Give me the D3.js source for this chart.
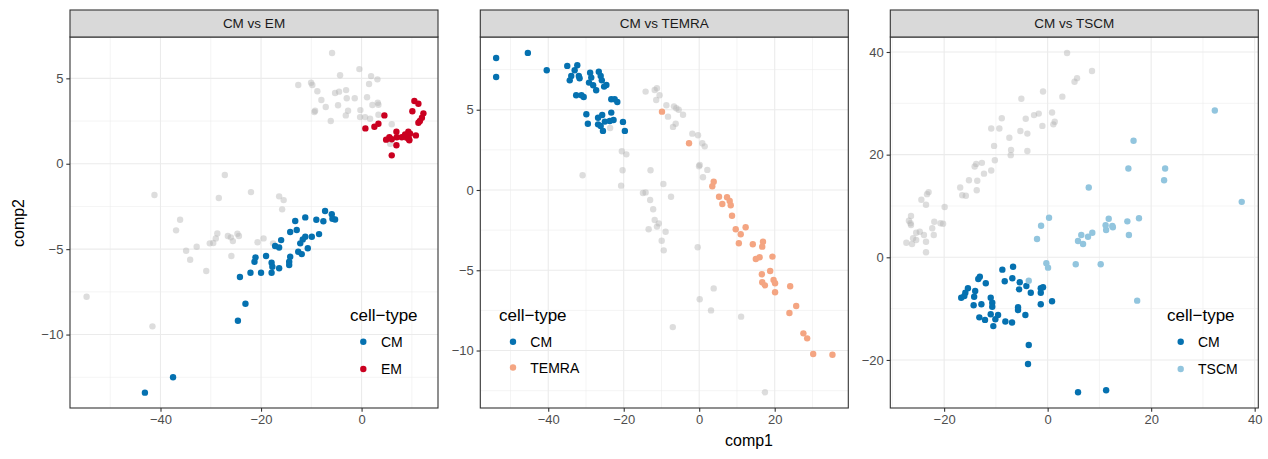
<!DOCTYPE html>
<html><head><meta charset="utf-8">
<script src="https://cdn.jsdelivr.net/npm/d3@7"></script>
<style>
body{margin:0;background:#fff}
svg{display:block}
text{font-family:"Liberation Sans",Arial,Helvetica,sans-serif}
</style>
</head><body>
<svg id="chart" width="1268" height="459"></svg>
<script>
// ---------- data ----------
const panelTitles = ["CM vs EM", "CM vs TEMRA", "CM vs TSCM"];
const otherTypes = ["EM", "TEMRA", "TSCM"];
const typeColors = {CM: "#0571B0", EM: "#CA0020", TEMRA: "#F4A582", TSCM: "#92C5DE"};
const legendTitle = "cell\u2212type";
const xTitle = "comp1";
const yTitle = "comp2";

const xDomains = [[-58.0, 15.2], [-58.0, 39.5], [-30.4, 40.7]];
const yDomains = [[-14.3, 7.42], [-13.58, 9.53], [-29.36, 42.92]];
const xMajor = [[-40, -20, 0], [-40, -20, 0, 20], [-20, 0, 20, 40]];
const xMinor = [[-50, -30, -10, 10], [-50, -30, -10, 10, 30], [-30, -10, 10, 30]];
const yMajor = [[-10, -5, 0, 5], [-10, -5, 0, 5], [-20, 0, 20, 40]];
const yMinor = [[-12.5, -7.5, -2.5, 2.5], [-12.5, -7.5, -2.5, 2.5, 7.5], [-10, 10, 30]];

// Panel 1: CM vs EM
const emGray = [[-27.2,-0.66],[-41.2,-1.83],[-28.4,-2.01],[-22.0,-1.66],[-36.1,-3.28],
[-5.87,6.48],[-0.44,5.54],[-4.28,5.18],[1.89,5.13],[3.15,4.94],[1.49,4.67],[-12.6,4.61],[-10.05,4.74],[-9.8,4.61],[-8.8,4.24],[-5.27,4.14],[-4.48,4.22],[-3.08,4.31],[-2.95,3.83],[-1.36,3.83],[1.09,3.89],[-8.0,3.73],[-7.13,3.32],[-4.68,3.42],[-2.69,3.10],[-9.25,3.10],[-9.39,3.03],[-3.14,2.83],[-0.24,3.14],[2.15,3.44],[3.22,3.57],[3.35,3.45],[-0.3,2.73],[0.7,2.73],[1.69,2.63],[3.35,2.87],[-6.13,2.50],[6.0,2.31],[5.7,1.17],
[-16.4,-1.91],[-15.5,-2.13],[-15.8,-2.67],
[-36.9,-3.9],[-28.7,-4.08],[-29.0,-4.37],[-29.5,-4.64],[-30.2,-4.66],[-26.6,-4.23],[-26.0,-4.31],[-25.6,-4.53],[-24.7,-4.10],[-24.4,-4.23],[-20.7,-4.6],[-32.8,-4.86],[-34.9,-5.09],[-34.1,-5.62],[-25.9,-5.40],[-30.9,-6.28],[-54.7,-7.79],[-41.6,-9.52],
[-19.5,-4.37],[-17.6,-4.66]];
const emCM = [[-7.26,-2.77],[-5.93,-2.96],[-5.27,-3.26],[-5.8,-3.22],[-9.0,-3.28],[-11.2,-3.14],[-13.2,-3.35],[-7.6,-3.37],
[-14.2,-4.0],[-12.9,-3.88],[-8.46,-4.12],[-9.9,-4.27],[-11.2,-4.27],[-11.7,-4.43],[-12.2,-4.66],[-10.7,-4.95],[-12.6,-5.15],[-11.9,-5.29],[-16.0,-4.47],[-17.2,-4.82],[-16.4,-4.9],[-14.2,-5.44],[-14.4,-5.74],[-14.4,-5.93],[-19.0,-5.40],[-17.9,-5.79],[-17.75,-6.03],[-16.4,-6.12],[-20.0,-6.38],[-17.9,-6.38],
[-21.1,-5.48],[-21.3,-5.74],[-22.1,-6.38],[-24.2,-6.63],[-23.1,-8.2],[-24.6,-9.19],[-37.5,-12.5],[-43.1,-13.4]];
const emEM = [[4.54,2.83],[3.35,2.34],[2.55,2.17],[0.76,2.07],[10.5,3.67],[11.3,3.51],[10.1,3.07],[12.3,2.95],[12.0,2.69],[11.6,2.50],[11.3,2.40],[6.93,1.87],[9.3,1.87],[9.65,1.76],[10.8,1.66],[5.53,1.56],[4.88,1.41],[6.0,1.43],[8.0,1.55],[9.0,1.52],[9.45,1.43],[9.5,1.37],[7.0,1.55],[6.93,1.08],[6.0,0.49],[8.66,1.72]];

// Panel 2: CM vs TEMRA
const temraGray = [[-23.6,3.86],[-14.2,6.13],[-11.8,6.23],[-11.2,6.34],[-10.5,5.90],[-11.4,5.61],[-8.7,5.28],[-8.27,4.57],[-20.5,2.41],[-19.3,2.22],[-20.3,1.23],[-12.9,1.23],[-30.9,0.92],[-20.7,0.27],[-9.5,0.37],[-14.9,-0.19],[-14.2,-0.15],[-13.0,-0.62],[-12.2,-1.2],[-11.8,-1.87],[-10.7,-2.08],
[-6.68,5.21],[-6.07,5.09],[-5.43,5.0],[-4.29,4.69],[-6.23,4.13],[-6.94,3.93],[-1.83,3.51],[-0.32,3.41],[0.82,2.91],[1.46,2.72],[0.13,1.56],[-0.05,1.48],[2.15,1.25],[1.0,0.79],[-7.47,-0.42],
[-13.4,-2.45],[-11.2,-2.28],[-8.9,-2.6],[-9.94,-3.16],[-9.4,-3.76],
[-0.4,-3.57],[3.84,-6.13],[0.13,-6.81],[3.13,-7.5],[11.1,-7.89],[-7.0,-8.54],[17.4,-12.6]];
const temraCM = [[-53.8,8.22],[-53.8,7.04],[-45.4,8.54],[-40.4,7.46],[-34.96,7.73],[-32.3,7.77],[-33.0,7.46],[-33.9,7.10],[-34.3,6.83],[-31.9,7.10],[-31.7,6.96],[-28.9,7.31],[-26.6,7.37],[-28.6,7.0],[-26.1,7.10],[-29.2,6.69],[-28.1,6.52],[-25.8,6.83],[-24.6,6.54],[-25.2,6.44],[-27.3,6.21],[-32.6,5.90],[-30.6,5.79],[-31.2,5.90],[-23.3,5.65],[-21.7,5.48],[-22.4,5.65],[-29.9,4.72],[-23.3,4.82],[-26.8,4.5],[-25.7,4.67],[-29.5,4.13],[-26.8,4.09],[-25.0,4.26],[-23.7,4.30],[-22.7,4.36],[-26.1,3.99],[-25.5,3.68],[-20.2,4.24],[-19.7,3.68]];
const temraTEMRA = [[-9.86,4.88],[-2.7,2.91],[3.84,0.52],[3.47,0.23],[5.25,-0.42],[7.37,-0.45],[8.08,-0.69],[8.35,-0.95],[6.12,-0.87],[8.69,-1.6],[9.67,-2.45],[12.3,-2.32],[11.0,-2.76],[10.5,-3.32],[14.2,-3.38],[16.9,-3.22],[16.7,-3.53],[19.4,-4.15],[15.0,-4.30],[16.0,-4.19],[18.8,-5.05],[16.6,-5.25],[16.7,-5.75],[17.4,-5.94],[19.7,-5.61],[20.1,-5.81],[20.1,-6.37],[24.1,-6.0],[25.7,-7.23],[23.9,-7.66],[27.6,-8.93],[28.6,-9.24],[30.2,-10.22],[35.3,-10.26]];

// Panel 3: CM vs TSCM
const tscmGray = [[3.75,39.8],[5.2,34.2],[5.68,34.9],[-0.89,32.3],[-5.08,30.9],[2.84,31.3],[0.85,28.2],[-1.72,28.0],[-2.63,27.7],[-4.23,27.0],[-8.86,27.1],[1.37,26.4],[1.1,25.9],[-1.02,25.6],[-10.9,25.1],[-9.33,25.1],[-5.27,24.6],[-3.92,24.1],[-7.4,23.3],[-10.35,21.7],[-7.07,20.9],[-3.92,20.7],[-7.13,19.9],[-10.2,18.9],[-12.7,18.4],[-13.8,18.2],[-14.1,17.7],[-10.9,16.9],[-12.3,16.3],[-15.2,15.0],[-13.6,14.9],[-16.9,13.6],[-13.7,13.05],[-16.5,12.1],[-15.8,12.0],[-23.0,12.7],[-23.3,12.3],[-24.4,11.2],[-23.5,10.25],[-19.9,9.8],[-26.4,8.05],[-26.8,7.13],[-26.5,6.62],[-21.9,6.94],[-20.7,6.62],[-20.2,6.55],[8.57,36.3],
[-26.4,6.29],[-22.3,5.65],[-24.7,4.99],[-25.4,4.79],[-23.9,4.34],[-22.0,4.34],[-26.0,3.7],[-27.3,2.84],[-26.2,2.59],[-25.4,3.37],[-23.5,3.04],[-23.5,0.97]];
const tscmCM = [[-6.68,-1.83],[-8.75,-2.41],[-6.82,-4.09],[-8.29,-4.68],[-13.1,-3.78],[-13.4,-4.23],[-11.95,-5.07],[-5.39,-4.87],[-5.52,-6.24],[-4.11,-5.59],[-3.26,-6.9],[-1.33,-6.04],[-0.89,-5.84],[-1.33,-6.9],[0.85,-8.57],[-1.33,-9.16],[-15.4,-6.04],[-15.9,-6.9],[-16.7,-7.87],[-16.1,-7.54],[-14.0,-6.57],[-14.2,-7.68],[-14.3,-9.35],[-12.8,-9.16],[-11.0,-7.87],[-10.7,-8.84],[-10.7,-9.62],[-11.0,-11.1],[-9.58,-11.24],[-10.1,-12.08],[-10.5,-13.4],[-13.2,-11.7],[-12.1,-12.2],[-8.17,-12.5],[-6.88,-12.7],[-5.72,-9.74],[-5.72,-10.27],[-4.3,-11.24],[-3.65,-17.1],[-3.79,-20.8],[5.87,-26.3],[11.3,-25.9]];
const tscmTSCM = [[0.27,7.72],[-1.27,6.16],[32.3,28.6],[16.6,22.7],[15.6,17.3],[22.7,17.3],[22.5,15.0],[7.94,13.6],[37.5,10.8],[11.8,7.52],[15.4,7.0],[17.65,7.6],[11.2,6.23],[12.5,6.1],[11.3,5.32],[12.6,5.84],[8.63,4.79],[7.8,4.01],[6.5,4.34],[5.87,3.18],[6.84,2.59],[15.7,4.34],[5.43,-1.36],[10.25,-1.36],[17.3,-8.45],[-2.05,3.57],[-0.25,-1.17],[0.08,-2.02],[-3.65,-4.56]];

const panelGray = [emGray, temraGray, tscmGray];
const panelCM = [emCM, temraCM, tscmCM];
const panelOther = [emEM, temraTEMRA, tscmTSCM];

// ---------- layout ----------
const svg = d3.select("#chart");
const panelLeft = [70, 480.3, 890.3];
const panelW = 368;
const plotTop = 37, plotBottom = 408, stripTop = 10;
const legendPos = [
  {titleX: 350, keyX: 363.3, textX: 381, ys: [341.7, 369]},
  {titleX: 499, keyX: 513, textX: 530.3, ys: [341.7, 367.5]},
  {titleX: 1167, keyX: 1180.7, textX: 1198, ys: [341.7, 369]}
];
const R = 3.2;

for (let i = 0; i < 3; i++) {
  const L = panelLeft[i];
  const x = d3.scaleLinear().domain(xDomains[i]).range([L, L + panelW]);
  const y = d3.scaleLinear().domain(yDomains[i]).range([plotBottom, plotTop]);
  const g = svg.append("g");

  // background
  g.append("rect").attr("x", L).attr("y", plotTop).attr("width", panelW).attr("height", plotBottom - plotTop).attr("fill", "#fff");

  // minor grid
  g.selectAll(null).data(xMinor[i]).join("line")
    .attr("x1", d => x(d)).attr("x2", d => x(d)).attr("y1", plotTop).attr("y2", plotBottom)
    .attr("stroke", "#EBEBEB").attr("stroke-width", 0.55);
  g.selectAll(null).data(yMinor[i]).join("line")
    .attr("y1", d => y(d)).attr("y2", d => y(d)).attr("x1", L).attr("x2", L + panelW)
    .attr("stroke", "#EBEBEB").attr("stroke-width", 0.55);
  // major grid
  g.selectAll(null).data(xMajor[i]).join("line")
    .attr("x1", d => x(d)).attr("x2", d => x(d)).attr("y1", plotTop).attr("y2", plotBottom)
    .attr("stroke", "#EBEBEB").attr("stroke-width", 1.1);
  g.selectAll(null).data(yMajor[i]).join("line")
    .attr("y1", d => y(d)).attr("y2", d => y(d)).attr("x1", L).attr("x2", L + panelW)
    .attr("stroke", "#EBEBEB").attr("stroke-width", 1.1);

  // points
  g.selectAll(null).data(panelGray[i]).join("circle")
    .attr("cx", d => x(d[0])).attr("cy", d => y(d[1])).attr("r", R)
    .attr("fill", "#B3B3B3").attr("fill-opacity", 0.45);
  g.selectAll(null).data(panelCM[i]).join("circle")
    .attr("cx", d => x(d[0])).attr("cy", d => y(d[1])).attr("r", R)
    .attr("fill", typeColors.CM);
  g.selectAll(null).data(panelOther[i]).join("circle")
    .attr("cx", d => x(d[0])).attr("cy", d => y(d[1])).attr("r", R)
    .attr("fill", typeColors[otherTypes[i]]);

  // border
  g.append("rect").attr("x", L).attr("y", plotTop).attr("width", panelW).attr("height", plotBottom - plotTop)
    .attr("fill", "none").attr("stroke", "#333333").attr("stroke-width", 1.1);

  // strip
  g.append("rect").attr("x", L).attr("y", stripTop).attr("width", panelW).attr("height", plotTop - stripTop)
    .attr("fill", "#D9D9D9").attr("stroke", "#333333").attr("stroke-width", 1.1);
  g.append("text").attr("x", L + panelW / 2).attr("y", (stripTop + plotTop) / 2).attr("dy", "0.35em")
    .attr("text-anchor", "middle").attr("font-size", "13.5px").attr("fill", "#1A1A1A").text(panelTitles[i]);

  // axes
  const xa = g.append("g").attr("transform", `translate(0,${plotBottom})`)
    .call(d3.axisBottom(x).tickValues(xMajor[i]).tickSize(3.7).tickPadding(2.9).tickFormat(d3.format("d")));
  const ya = g.append("g").attr("transform", `translate(${L},0)`)
    .call(d3.axisLeft(y).tickValues(yMajor[i]).tickSize(3.7).tickPadding(2.9).tickFormat(d3.format("d")));
  [xa, ya].forEach(a => {
    a.select(".domain").remove();
    a.selectAll(".tick line").attr("stroke", "#333333").attr("stroke-width", 1.1);
    a.selectAll(".tick text").attr("fill", "#4D4D4D").attr("font-size", "13px")
      .attr("font-family", "'Liberation Sans',Arial,Helvetica,sans-serif");
  });

  // legend
  const lp = legendPos[i];
  const lg = svg.append("g");
  lg.append("text").attr("x", lp.titleX).attr("y", 315.7).attr("dy", "0.3em")
    .attr("font-size", "17px").attr("fill", "#000").text(legendTitle);
  const types = ["CM", otherTypes[i]];
  types.forEach((t, k) => {
    lg.append("circle").attr("cx", lp.keyX).attr("cy", lp.ys[k]).attr("r", R).attr("fill", typeColors[t]);
    lg.append("text").attr("x", lp.textX).attr("y", lp.ys[k]).attr("dy", "0.36em")
      .attr("font-size", "14px").attr("fill", "#000").text(t);
  });
}

// axis titles
svg.append("text").attr("x", 749).attr("y", 440).attr("dy", "0.35em").attr("text-anchor", "middle")
  .attr("font-size", "16px").attr("fill", "#000").text(xTitle);
svg.append("text").attr("transform", "translate(18,223) rotate(-90)").attr("dy", "0.35em").attr("text-anchor", "middle")
  .attr("font-size", "16px").attr("fill", "#000").text(yTitle);
</script>
</body></html>
